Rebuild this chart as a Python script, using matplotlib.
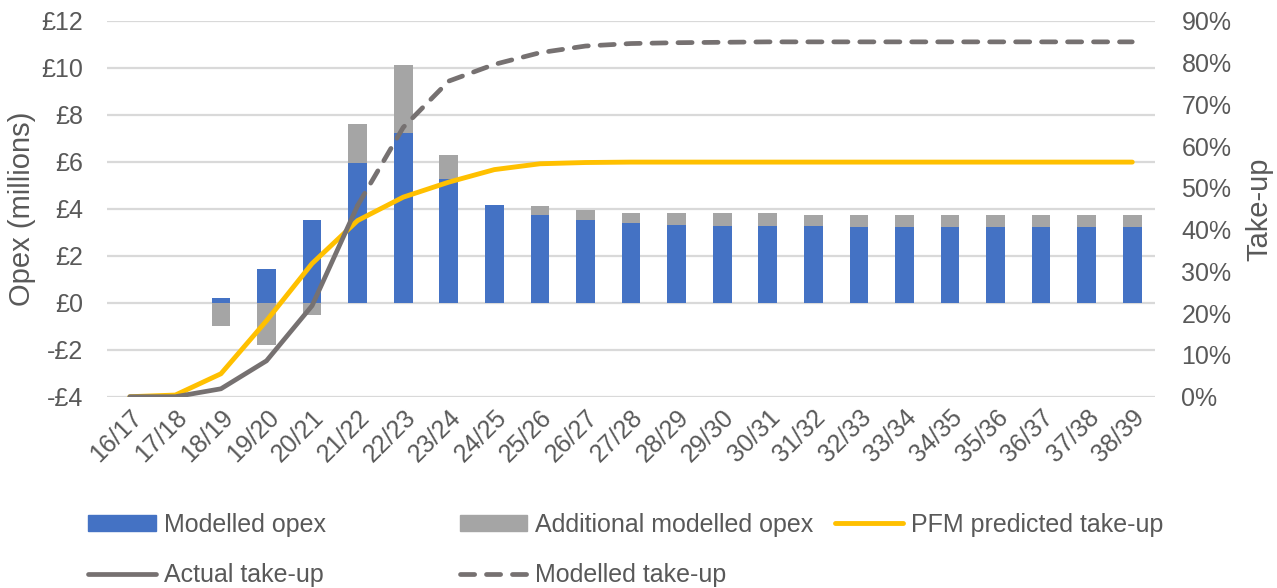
import numpy as np
import matplotlib.pyplot as plt
from matplotlib.patches import Patch
from matplotlib.lines import Line2D
from matplotlib.ticker import FuncFormatter, MultipleLocator

plt.rcParams['font.family'] = ['Liberation Sans', 'DejaVu Sans']

years = ['16/17', '17/18', '18/19', '19/20', '20/21', '21/22', '22/23', '23/24',
         '24/25', '25/26', '26/27', '27/28', '28/29', '29/30', '30/31', '31/32',
         '32/33', '33/34', '34/35', '35/36', '36/37', '37/38', '38/39']

# £ millions
modelled_opex = [0, 0, 0.22, 1.42, 3.52, 5.95, 7.25, 5.28, 4.18, 3.75, 3.51, 3.39,
                 3.33, 3.27, 3.27, 3.25, 3.22, 3.22, 3.22, 3.22, 3.22, 3.22, 3.22]
additional_opex = [0, 0, -1.0, -1.8, -0.52, 1.65, 2.88, 1.0, 0, 0.37, 0.44, 0.42,
                   0.48, 0.54, 0.54, 0.50, 0.53, 0.53, 0.53, 0.53, 0.53, 0.53, 0.53]

# take-up, %
pfm_takeup = [0, 0.4, 5.5, 18.2, 31.9, 42.2, 47.8, 51.4, 54.4, 55.8, 56.1, 56.2,
              56.2, 56.2, 56.2, 56.2, 56.2, 56.2, 56.2, 56.2, 56.2, 56.2, 56.2]
actual_takeup = [0, 0, 1.9, 8.6, 21.8, 45.8] + [np.nan] * 17
modelled_takeup = [np.nan] * 5 + [45.8, 64.5, 75.6, 79.6, 82.4, 84.0, 84.6,
                                  84.8, 84.9, 85.0, 85.0, 85.0, 85.0, 85.0,
                                  85.0, 85.0, 85.0, 85.0]

c_blue = '#4472C4'
c_grey = '#A5A5A5'
c_yellow = '#FFC000'
c_dark = '#767171'
c_text = '#595959'
c_grid = '#D9D9D9'

fig = plt.figure(figsize=(12.77, 5.88), dpi=100)
ax = fig.add_axes([0.0838, 0.3253, 0.8207, 0.6390])
ax2 = ax.twinx()

x = np.arange(len(years))
mo = np.array(modelled_opex)
ad = np.array(additional_opex)
bottom = np.where(ad >= 0, np.maximum(mo, 0), 0)

ax.bar(x, mo, width=0.41, color=c_blue, zorder=2)
ax.bar(x, ad, width=0.41, bottom=bottom, color=c_grey, zorder=2)

ax.set_ylim(-4, 12)
ax.set_xlim(-0.5, len(years) - 0.5)
ax.yaxis.set_major_locator(MultipleLocator(2))
ax.yaxis.set_major_formatter(FuncFormatter(lambda v, p: ('-£%d' % -v) if v < 0 else '£%d' % v))
ax.grid(axis='y', color=c_grid, linewidth=1.6, zorder=0)
ax.set_axisbelow(True)

dash = (3.0, 2.5)
ax2.plot(x, pfm_takeup, color=c_yellow, lw=3.5, solid_capstyle='round', zorder=3)
ax2.plot(x, actual_takeup, color=c_dark, lw=3.4, solid_capstyle='round', zorder=4)
ax2.plot(x, modelled_takeup, color=c_dark, lw=3.4, dashes=dash,
         dash_capstyle='round', zorder=4)
ax2.set_ylim(0, 90)
ax2.yaxis.set_major_locator(MultipleLocator(10))
ax2.yaxis.set_major_formatter(FuncFormatter(lambda v, p: '%d%%' % v))

ax.set_xticks(x)
ax.set_xticklabels(years, rotation=45, ha='right', rotation_mode='anchor')

for a in (ax, ax2):
    for s in a.spines.values():
        s.set_visible(False)
    a.tick_params(length=0, labelsize=18, colors=c_text)
ax.tick_params(axis='y', pad=17)
ax2.tick_params(axis='y', pad=19)
ax.tick_params(axis='x', pad=6)

ax.set_ylabel('Opex (millions)', fontsize=21, color=c_text, labelpad=4)
ax2.set_ylabel('Take-up', fontsize=21, color=c_text, labelpad=10)

h_mo = Patch(color=c_blue)
h_ad = Patch(color=c_grey)
h_pfm = Line2D([], [], color=c_yellow, lw=3.5, solid_capstyle='round')
h_act = Line2D([], [], color=c_dark, lw=3.4, solid_capstyle='round')
h_mod = Line2D([], [], color=c_dark, lw=3.4, dashes=dash, dash_capstyle='round')

leg_kw = dict(frameon=False, fontsize=18, handlelength=2.7, handleheight=0.6,
              handletextpad=0.32, borderpad=0, borderaxespad=0, labelspacing=1.05,
              loc='upper left', labelcolor=c_text)
fig.legend([h_mo, h_act], ['Modelled opex', 'Actual take-up'],
           bbox_to_anchor=(0.069, 0.128), **leg_kw)
fig.legend([h_ad, h_mod], ['Additional modelled opex', 'Modelled take-up'],
           bbox_to_anchor=(0.360, 0.128), **leg_kw)
fig.legend([h_pfm], ['PFM predicted take-up'],
           bbox_to_anchor=(0.654, 0.128), **leg_kw)

fig.savefig('out.png', dpi=100)
